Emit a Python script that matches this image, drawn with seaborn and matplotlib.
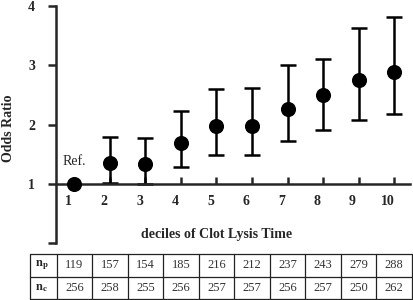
import numpy as np
import pandas as pd
import matplotlib
matplotlib.use("Agg")
import matplotlib.pyplot as plt
import matplotlib.transforms as mtransforms
import seaborn as sns

# odds ratio per decile of clot lysis time (decile 1 = reference)
deciles = [1, 2, 3, 4, 5, 6, 7, 8, 9, 10]
odds_ratio = [1.00, 1.35, 1.34, 1.69, 1.97, 1.98, 2.27, 2.50, 2.75, 2.89]
ci_low = [np.nan, 1.02, 1.00, 1.29, 1.49, 1.49, 1.72, 1.90, 2.08, 2.18]
ci_high = [np.nan, 1.79, 1.78, 2.23, 2.60, 2.62, 3.00, 3.11, 3.63, 3.82]
n_p = [119, 157, 154, 185, 216, 212, 237, 243, 279, 288]
n_c = [256, 258, 255, 256, 257, 257, 256, 257, 250, 262]
row_labels = [r"$\mathbf{n}_\mathbf{p}$", r"$\mathbf{n}_\mathbf{c}$"]

df = pd.DataFrame({"decile": deciles, "OR": odds_ratio, "lo": ci_low, "hi": ci_high})

sns.set_style("ticks")
plt.rcParams["font.family"] = ["Liberation Serif", "DejaVu Serif"]
plt.rcParams["mathtext.fontset"] = "stix"

fig = plt.figure(figsize=(4.14, 3.0), dpi=100)
ax = fig.add_axes([56 / 414, 1 - 243 / 300, 354 / 414, 237 / 300])

# error bars (reference decile has none)
ci = df.dropna()
ax.errorbar(ci["decile"], ci["OR"],
            yerr=[ci["OR"] - ci["lo"], ci["hi"] - ci["OR"]],
            fmt="none", ecolor="black", elinewidth=1.8, capsize=5.5,
            capthick=1.8, zorder=2, clip_on=False)
sns.scatterplot(data=df, x="decile", y="OR", ax=ax, color="black", s=118,
                edgecolor="black", linewidth=0, zorder=3, clip_on=False)

ax.set_xlim(0.48, 10.45)
ax.set_ylim(0, 4)
ax.spines["top"].set_visible(False)
ax.spines["right"].set_visible(False)
ax.spines["bottom"].set_position(("data", 1))
for s in ("left", "bottom"):
    ax.spines[s].set_linewidth(1.8)

ax.set_xticks(deciles)
ax.set_xticklabels([str(d) for d in deciles], fontsize=10, fontweight="bold")
ax.set_yticks([0, 1, 2, 3, 4])
ax.set_yticklabels(["", "1", "2", "3", "4"], fontsize=10, fontweight="bold")
ax.tick_params(axis="x", direction="in", length=5, width=1.8, pad=8)
ax.tick_params(axis="y", direction="out", length=6, width=1.8, pad=9)
shift = mtransforms.ScaledTranslation(-6 / 100, 0, fig.dpi_scale_trans)
for lab in ax.get_xticklabels():
    lab.set_transform(lab.get_transform() + shift)

ax.set_xlabel("")
ax.set_ylabel("Odds Ratio", fontsize=10, fontweight="bold")
ax.yaxis.set_label_coords(-0.117, 0.485)
ax.text(5.0, 0.14, "deciles of Clot Lysis Time", ha="center", va="center",
        fontsize=10, fontweight="bold")
ax.text(1.0, 1.37, "Ref.", ha="center", va="center", fontsize=10)

# count table below the chart, columns aligned with the deciles
row_edges = [-0.185, -0.57, -0.94]
left_edge = -0.25
right_edge = deciles[-1] + 0.5
lkw = dict(color="#222222", linewidth=0.9, clip_on=False)
for y in row_edges:
    ax.plot([left_edge, right_edge], [y, y], **lkw)
for x in [left_edge] + [d - 0.5 for d in deciles] + [right_edge]:
    ax.plot([x, x], [row_edges[0], row_edges[-1]], **lkw)
for r, vals in enumerate([n_p, n_c]):
    yc = (row_edges[r] + row_edges[r + 1]) / 2
    ax.text(0.08, yc, row_labels[r], ha="center", va="center", fontsize=9,
            clip_on=False)
    for d, v in zip(deciles, vals):
        ax.text(d, yc, str(v), ha="center", va="center", fontsize=9,
                color="#333333", clip_on=False)

fig.savefig("out.png", dpi=100, facecolor="white")
